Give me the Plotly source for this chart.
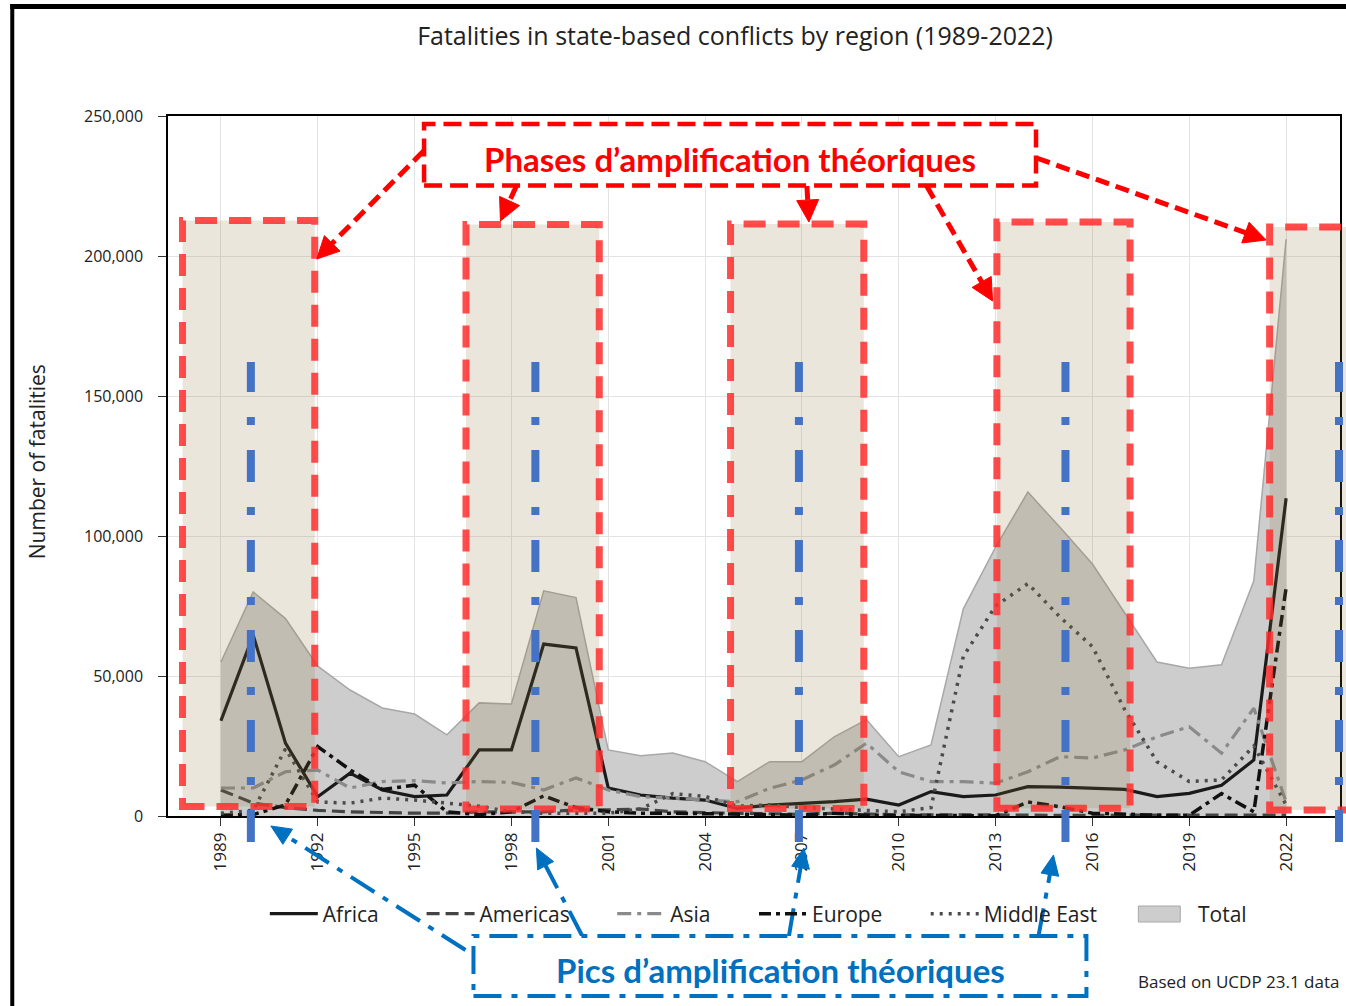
import numpy as np
import plotly.graph_objects as go

# ---------------- data (fatalities) ----------------
years = list(range(1989, 2023))
africa = [34000, 64600, 26000, 6900, 15300, 9300, 6900, 7500, 23600, 23600, 61400, 60000, 10000, 7500,
          6400, 5700, 2700, 3900, 4500, 5100, 6000, 3900, 8700, 6900, 7500, 10500, 10300, 9900, 9500,
          6900, 8100, 11000, 20000, 113500]
americas = [9300, 4600, 3000, 2000, 1500, 1200, 1000, 1000, 1500, 1500, 1500, 2200, 2200, 2500,
            1500, 1200, 1000, 800, 600, 1000, 600, 400, 400, 500, 400, 300, 200, 200, 300, 300,
            300, 300, 300, 300]
asia = [10000, 10000, 15800, 16400, 10000, 12300, 12600, 11800, 12300, 12000, 9300, 13600, 9300, 6900,
        6400, 5700, 5100, 9900, 12900, 18200, 26000, 15800, 12300, 12300, 11700, 15800, 21200, 20700,
        23600, 28300, 31900, 22400, 38500, 5000]
europe = [300, 500, 4000, 24800, 16500, 9500, 11000, 1500, 500, 1500, 7200, 3000, 1500, 1000,
          1000, 800, 600, 400, 300, 1000, 300, 200, 200, 200, 100, 5000, 3300, 1000, 500, 300,
          300, 8000, 1500, 81500]
middle_east = [1000, 2000, 24000, 5000, 4600, 6400, 5700, 4600, 3500, 1500, 1000, 1000, 1000, 2500,
               8000, 7000, 3500, 4000, 3000, 2500, 2000, 1500, 3000, 57000, 75000, 83000, 71000, 60500,
               38000, 19400, 12300, 12900, 25000, 4000]
total = [55000, 80000, 70500, 53500, 45000, 38600, 36400, 29000, 40400, 40000, 80400, 78000, 23600,
         21500, 22500, 19400, 12300, 19400, 19400, 28300, 34400, 21200, 25400, 74000, 96000, 115700,
         103000, 90000, 72500, 55000, 52800, 54000, 84000, 206000]
x_ticks = list(range(1989, 2023, 3))
y_ticks = [0, 50000, 100000, 150000, 200000, 250000]

FONT = "Open Sans"
FIG_W, FIG_H = 1346, 1006
L, T, PW, PH = 168, 116, 1174, 700
TOTAL_FILL = "rgb(205,205,205)"
TOTAL_LINE = "#a8a8a8"


def px(x):
    return (x - L) / PW


def py(y):
    return (T + PH - y) / PH


fig = go.Figure()

fig.add_trace(go.Scatter(x=years, y=total, name="Total", mode="lines", fill="tozeroy",
                         fillcolor=TOTAL_FILL, line=dict(color=TOTAL_LINE, width=1.5),
                         showlegend=False))
series = [
    ("Africa", africa, dict(color="#1a1a1a", width=3.2, dash="solid"), "legend"),
    ("Americas", americas, dict(color="#444444", width=3.2, dash="13px,6px"), "legend2"),
    ("Asia", asia, dict(color="#8a8a8a", width=3.2, dash="14px,6px,4px,6px"), "legend3"),
    ("Europe", europe, dict(color="#111111", width=3.5, dash="12px,5px,4px,5px"), "legend4"),
    ("Middle East", middle_east, dict(color="#4a4a4a", width=3.5, dash="3px,6px"), "legend5"),
]
for name, vals, ln, lg in series:
    fig.add_trace(go.Scatter(x=years, y=vals, name=name, mode="lines", line=ln, legend=lg, showlegend=True))

shapes = []
annotations = []

# outer border (top and left)
shapes.append(dict(type="line", xref="paper", yref="paper", x0=px(10), x1=px(1350), y0=py(6.5), y1=py(6.5),
                   line=dict(color="black", width=5)))
shapes.append(dict(type="line", xref="paper", yref="paper", x0=px(12), x1=px(12), y0=py(4), y1=py(1010),
                   line=dict(color="black", width=4)))

# phase boxes (red dashed, beige fill)
phase_boxes = [(182.5, 220.5, 315, 806.5), (466.5, 224.5, 600, 809), (731.5, 224, 865, 808.5),
               (998.3, 222, 1131.7, 808.3), (1271.5, 227, 1390, 810)]
for x0, y0, x1, y1 in phase_boxes:
    shapes.append(dict(type="rect", xref="paper", yref="paper", x0=px(x0), x1=px(x1), y0=py(y1), y1=py(y0),
                       fillcolor="rgba(140,118,60,0.18)", line=dict(color="rgba(255,45,45,0.85)", width=7,
                                                                   dash="22px,12px"), layer="above"))

# blue peak lines
for xb in [251, 536, 800, 1067, 1341]:
    shapes.append(dict(type="line", xref="paper", yref="paper", x0=px(xb), x1=px(xb), y0=py(842), y1=py(362),
                       line=dict(color="#4472C4", width=8, dash="32px,25px,8px,25px"), layer="above"))


def arrow(tail, tip, color, width, dash, hl=22, hw=11):
    t = np.array(tail, float)
    p = np.array(tip, float)
    u = (p - t) / np.linalg.norm(p - t)
    n = np.array([-u[1], u[0]])
    base = p - hl * u
    shapes.append(dict(type="line", xref="paper", yref="paper", x0=px(t[0]), y0=py(t[1]),
                       x1=px(base[0] + 2 * u[0]), y1=py(base[1] + 2 * u[1]),
                       line=dict(color=color, width=width, dash=dash), layer="above"))
    pts = [p, base + hw * n, base - hw * n]
    path = "M " + " L ".join(f"{px(q[0]):.5f},{py(q[1]):.5f}" for q in pts) + " Z"
    shapes.append(dict(type="path", xref="paper", yref="paper", path=path, fillcolor=color,
                       line=dict(color=color, width=1), layer="above"))


RED = "#FF0000"
BLUE = "#0070C0"
for tail, tip in [((424, 151), (317, 259)), ((517, 186), (501, 221)), ((808, 186), (810, 222)),
                  ((928, 186), (994, 301)), ((1038, 158), (1268, 240))]:
    arrow(tail, tip, RED, 5, "14px,7px")

for tail, tip in [((466, 950), (271, 826)), ((583, 936), (537, 848)), ((790, 936), (805, 848)),
                  ((1040, 936), (1055, 855))]:
    arrow(tail, tip, BLUE, 4, "28px,10px,6px,10px", hl=20, hw=9)

# text boxes
shapes.append(dict(type="rect", xref="paper", yref="paper", x0=px(424.5), x1=px(1037.5), y0=py(185.5), y1=py(124),
                   fillcolor="white", line=dict(color=RED, width=4.5, dash="18px,8px"), layer="above"))
shapes.append(dict(type="rect", xref="paper", yref="paper", x0=px(474), x1=px(1088), y0=py(996), y1=py(936),
                   fillcolor="white", line=dict(color=BLUE, width=4, dash="28px,10px,6px,10px"), layer="above"))

annotations.append(dict(text="<b>Phases d’amplification théoriques</b>", xref="paper", yref="paper",
                        x=px(731), y=py(159), xanchor="center", yanchor="middle", showarrow=False,
                        font=dict(family="Lato", size=33, color=RED)))
annotations.append(dict(text="<b>Pics d’amplification théoriques</b>", xref="paper", yref="paper",
                        x=px(782), y=py(970), xanchor="center", yanchor="middle", showarrow=False,
                        font=dict(family="Lato", size=33, color=BLUE)))

# axis title and source note
annotations.append(dict(text="Number of fatalities", xref="paper", yref="paper", x=px(37), y=py(462),
                        xanchor="center", yanchor="middle", textangle=-90, showarrow=False,
                        font=dict(family=FONT, size=21, color="#222")))
annotations.append(dict(text="Based on UCDP 23.1 data", xref="paper", yref="paper", x=px(1343), y=py(981),
                        xanchor="right", yanchor="middle", showarrow=False,
                        font=dict(family=FONT, size=17, color="#222")))

# legend: native legends for the lines, swatch for the filled total
legend_text_x = {"legend": 323, "legend2": 480, "legend3": 671, "legend4": 813, "legend5": 985}
ITEMW = 48
legend_layout = {}
for key, xt in legend_text_x.items():
    legend_layout[key] = dict(x=px(xt - ITEMW - 10), y=py(914), xanchor="left", yanchor="middle",
                              orientation="h", bgcolor="rgba(0,0,0,0)", itemwidth=ITEMW,
                              font=dict(family=FONT, size=21, color="#222"))
shapes.append(dict(type="rect", xref="paper", yref="paper", x0=px(1140), x1=px(1182), y0=py(922), y1=py(906),
                   fillcolor=TOTAL_FILL, line=dict(color=TOTAL_LINE, width=1)))
annotations.append(dict(text="Total", xref="paper", yref="paper", x=px(1198), y=py(914), xanchor="left",
                        yanchor="middle", showarrow=False, font=dict(family=FONT, size=21, color="#222")))

fig.update_layout(
    width=FIG_W, height=FIG_H, showlegend=True,
    margin=dict(l=L, r=FIG_W - L - PW, t=T, b=FIG_H - T - PH, pad=0),
    paper_bgcolor="white", plot_bgcolor="white",
    title=dict(text="Fatalities in state-based conflicts by region (1989-2022)", xref="paper",
               x=px(736), xanchor="center", yref="container", y=1 - 36 / FIG_H, yanchor="middle",
               font=dict(family=FONT, size=25, color="#222")),
    font=dict(family=FONT, color="#222"),
    shapes=shapes, annotations=annotations,
    **legend_layout,
)
fig.update_xaxes(range=[1987.36, 2023.67], tickvals=x_ticks, tickangle=-90, ticks="outside", ticklen=8,
                 tickcolor="#333", showgrid=True, gridcolor="#e3e3e3", gridwidth=1, showline=True,
                 linecolor="black", linewidth=1.5, mirror=True, zeroline=False,
                 tickfont=dict(family=FONT, size=17, color="#222"))
fig.update_yaxes(range=[0, 250000], tickvals=y_ticks, tickformat=",", ticks="outside", ticklen=8,
                 tickcolor="#333", showgrid=True, gridcolor="#e3e3e3", gridwidth=1, showline=True,
                 linecolor="black", linewidth=1.5, mirror=True, zeroline=False, ticklabelstandoff=12,
                 tickfont=dict(family=FONT, size=16, color="#222"))

fig.write_html("out.html", config={"displayModeBar": False},
               post_script="document.body.style.margin='0px';")
